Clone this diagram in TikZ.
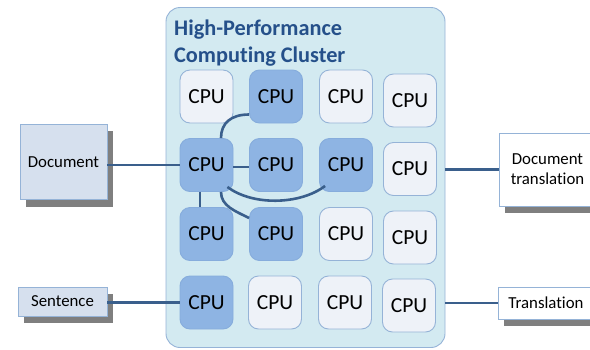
\documentclass[tikz,border=0pt]{standalone}
\usepackage{fontspec}
\setmainfont{Carlito}[Ligatures=NoCommon]
\usetikzlibrary{calc}

\definecolor{clusterfill}{HTML}{D3EAF1}
\definecolor{boxline}{HTML}{95B3D7}
\definecolor{cpudark}{HTML}{8EB4E3}
\definecolor{cpudarkline}{HTML}{86ACDC}
\definecolor{cpulight}{HTML}{EEF2F8}
\definecolor{docfill}{HTML}{D6E0EE}
\definecolor{linkcol}{HTML}{3A5F8C}
\definecolor{titlecol}{HTML}{25508A}
\definecolor{shadowgray}{HTML}{7F7F7F}

\pgfdeclarelayer{background}
\pgfdeclarelayer{bottom}
\pgfsetlayers{bottom,background,main}

\tikzset{
  cpubox/.style={draw=boxline, fill=cpulight, line width=0.9pt, rounded corners=10pt,
    minimum width=53pt, minimum height=53pt, inner sep=0pt,
    font=\fontsize{21.5}{25}\selectfont},
  cpuon/.style={cpubox, fill=cpudark, draw=cpudarkline},
  iobox/.style={draw=boxline, line width=0.9pt, inner sep=0pt, align=center,
    font=\fontsize{16.8}{20}\selectfont,
    append after command={\pgfextra{\begin{pgfonlayer}{background}
      \fill[shadowgray] ($(\tikzlastnode.south west)+(6,7)$) rectangle ($(\tikzlastnode.north east)+(6,7)$);
      \end{pgfonlayer}}}},
  link/.style={draw=linkcol, line width=2.6pt},
  titletext/.style={anchor=base west, inner sep=0pt, text=titlecol,
    font=\fontsize{22.3}{26}\selectfont\bfseries},
}

\begin{document}
\begin{tikzpicture}[x=1pt, y=-1pt]
\useasboundingbox (0,0) rectangle (590,349);
\clip (0,0) rectangle (590,349);

% cluster frame
\begin{pgfonlayer}{bottom}
\node[draw=boxline, fill=clusterfill, line width=0.9pt, rounded corners=14pt,
  minimum width=279pt, minimum height=340pt, inner sep=0pt] (cluster) at (305.5,177.5) {};
\end{pgfonlayer}
\node[titletext] (title1) at (174,35) {High-Performance};
\node[titletext] (title2) at (174,62) {Computing Cluster};

% grid of processors
\node[cpubox] (c11) at (206.5,96.5) {CPU};
\node[cpuon]  (c12) at (276,96.5) {CPU};
\node[cpubox] (c13) at (346,96.5) {CPU};
\node[cpubox] (c14) at (410,100.5) {CPU};

\node[cpuon]  (c21) at (206.5,165) {CPU};
\node[cpuon]  (c22) at (276,165) {CPU};
\node[cpuon]  (c23) at (346,165) {CPU};
\node[cpubox] (c24) at (410,169) {CPU};

\node[cpuon]  (c31) at (206.5,234) {CPU};
\node[cpuon]  (c32) at (276,234) {CPU};
\node[cpubox] (c33) at (346,234) {CPU};
\node[cpubox] (c34) at (410,237.5) {CPU};

\node[cpuon]  (c41) at (206.5,302.5) {CPU};
\node[cpubox] (c42) at (275,302.5) {CPU};
\node[cpubox] (c43) at (345,302.5) {CPU};
\node[cpubox] (c44) at (409,305.5) {CPU};

% inputs and outputs
\node[iobox, fill=docfill, minimum width=87pt, minimum height=75pt] (doc) at (63.5,162) {Document};
\node[iobox, fill=docfill, minimum width=89pt, minimum height=29pt] (sent) at (62.5,301.5) {Sentence};
\node[iobox, fill=white, minimum width=97pt, minimum height=73pt] (dtr) at (547.5,169.5) {Document\\translation};
\node[iobox, fill=white, minimum width=96pt, minimum height=32pt] (tr) at (546,303) {Translation};

% connections to the outside
\draw[link] (c21.west -| doc.east) -- (c21.west);
\draw[link] (c41.west -| sent.east) -- (c41.west);
\draw[link] (dtr.west -| cluster.east) -- (dtr.west);
\draw[link] (tr.west -| cluster.east) -- (tr.west);

% links between busy processors
\draw[link] ($(c21.east)+(0,2)$) -- ($(c22.west)+(0,2)$);
\draw[link] ($(c21.south)+(-6.5,0)$) -- ($(c31.north)+(-6.5,0)$);
\draw[link] ($(c21.north)+(14.5,0)$) .. controls +(0,-15) and +(-18,0) .. ($(c12.west)+(0,18)$);
\draw[link] ($(c21.south east)+(-6,-5)$) .. controls +(25,19) and +(-25,19) .. ($(c23.south west)+(6,-6)$);
\draw[link] ($(c21.south)+(14.5,0)$) .. controls +(0,14) and +(-14,-7) .. ($(c32.west)+(0,-16)$);
\end{tikzpicture}
\end{document}
